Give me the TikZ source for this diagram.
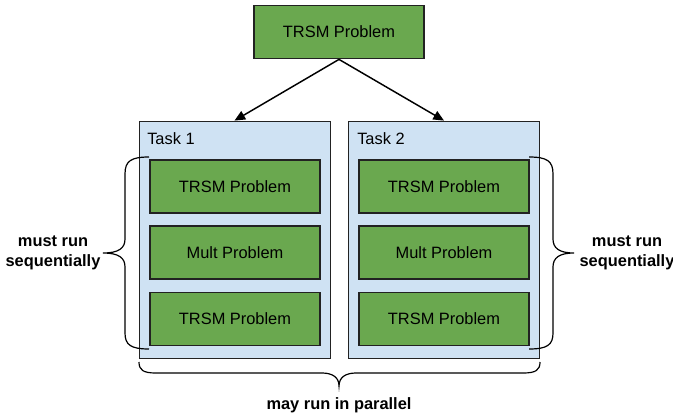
\documentclass[tikz,border=0pt]{standalone}
\usepackage{fontspec}
\setmainfont{Liberation Sans}
\usetikzlibrary{arrows.meta}
\definecolor{probgreen}{HTML}{6AA84F}
\definecolor{taskblue}{HTML}{CFE2F3}
\definecolor{edge}{HTML}{222222}
\begin{document}
\begin{tikzpicture}[x=0.75pt,y=-0.75pt,
  prob/.style={draw=edge,line width=1.1pt,fill=probgreen,minimum width=127.5pt,minimum height=40pt,inner sep=0pt,font=\fontsize{12.3}{14}\selectfont},
  task/.style={draw=edge,line width=0.6pt,fill=taskblue,minimum width=143.25pt,minimum height=177.75pt,inner sep=0pt},
  tasklabel/.style={anchor=west,font=\fontsize{12.3}{14}\selectfont,inner sep=0pt},
  note/.style={font=\fontsize{12.3}{15}\bfseries\selectfont,align=center,inner sep=0pt},
  bracestyle/.style={draw=black,line width=0.9pt},
  arr/.style={draw=black,line width=1.1pt,-{Triangle[length=8pt,width=7pt]}}]
\useasboundingbox (0,0) rectangle (673,417);
\node[prob] (top) at (339,32) {TRSM Problem};
\node[task] (t1) at (234.5,239.5) {};
\node[task] (t2) at (444,239.5) {};
\node[tasklabel] (l1) at (147,139) {Task 1};
\node[tasklabel] (l2) at (357,139) {Task 2};
\node[prob] (a1) at (235,186.5) {TRSM Problem};
\node[prob] (a2) at (235,252.5) {Mult Problem};
\node[prob] (a3) at (235,319) {TRSM Problem};
\node[prob] (b1) at (444,186.5) {TRSM Problem};
\node[prob] (b2) at (444,252.5) {Mult Problem};
\node[prob] (b3) at (444,319) {TRSM Problem};
\draw[arr] (top.south) -- (t1.north);
\draw[arr] (top.south) -- (t2.north);
% left brace
\draw[bracestyle] (149,157) .. controls (131,157) and (125,161) .. (125,174) -- (125,239)
  .. controls (125,248) and (119,253) .. (103,253)
  .. controls (119,253) and (125,258) .. (125,267) -- (125,333)
  .. controls (125,345) and (131,349) .. (149,349);
% right brace
\draw[bracestyle] (529,157) .. controls (547,157) and (553,161) .. (553,174) -- (553,239)
  .. controls (553,248) and (559,253) .. (574,253)
  .. controls (559,253) and (553,258) .. (553,267) -- (553,333)
  .. controls (553,345) and (547,349) .. (529,349);
% bottom brace
\draw[bracestyle] (139,362) .. controls (139,370) and (143,373) .. (156,373) -- (322,373)
  .. controls (332,373) and (339,377) .. (339,386)
  .. controls (339,377) and (346,373) .. (356,373) -- (523,373)
  .. controls (536,373) and (540,370) .. (540,362);
\node[note] (nl) at (53,253) {must run\\sequentially};
\node[note] (nr) at (627,253) {must run\\sequentially};
\node[note] (np) at (339,405) {may run in parallel};
\end{tikzpicture}
\end{document}
